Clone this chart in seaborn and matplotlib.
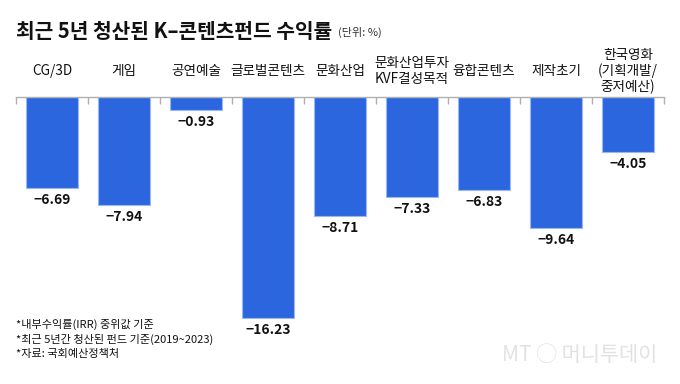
import matplotlib
matplotlib.use("Agg")
import matplotlib.pyplot as plt
import matplotlib.transforms as mtransforms
import seaborn as sns
import pandas as pd

categories = ["CG/3D", "게임", "공연예술", "글로벌콘텐츠", "문화산업",
              "문화산업투자\nKVF결성목적", "융합콘텐츠", "제작초기", "한국영화\n(기획개발/\n중저예산)"]
values = [-6.69, -7.94, -0.93, -16.23, -8.71, -7.33, -6.83, -9.64, -4.05]
value_labels = ["−6.69", "−7.94", "−0.93", "−16.23", "−8.71", "−7.33", "−6.83", "−9.64", "−4.05"]
title = "최근 5년 청산된 K–콘텐츠펀드 수익률"
unit = "(단위: %)"
notes = ["*내부수익률(IRR) 중위값 기준",
         "*최근 5년간 청산된 펀드 기준(2019~2023)",
         "*자료: 국회예산정책처"]

sns.set_theme(style="white")
plt.rcParams['font.family'] = ['Noto Sans CJK KR', 'DejaVu Sans']
plt.rcParams['axes.unicode_minus'] = False

df = pd.DataFrame({"cat": categories, "val": values})

W, H = 680, 384
fig = plt.figure(figsize=(W / 100, H / 100), dpi=100)
base_px = 97
bottom_px = 340
ax = fig.add_axes([16 / W, 1 - bottom_px / H, 648 / W, (bottom_px - base_px) / H])

px_per_unit = (318 - base_px) / 16.23
ymin = -(bottom_px - base_px) / px_per_unit
sns.barplot(data=df, x="cat", y="val", ax=ax, color="#2b66de", width=0.72,
            edgecolor="#9ab8f0", linewidth=0.8, saturation=1)
ax.set_ylim(ymin, 0)
ax.set_xlim(-0.5, len(categories) - 0.5)
for s in ["left", "right", "bottom"]:
    ax.spines[s].set_visible(False)
ax.spines["top"].set_color("#b0b0b0")
ax.spines["top"].set_linewidth(1.0)
ax.set_xlabel("")
ax.set_ylabel("")
ax.set_yticks([])
ax.set_xticks([i - 0.5 for i in range(len(categories) + 1)])
ax.set_xticklabels([])
ax.xaxis.tick_top()
ax.tick_params(axis="x", direction="in", length=5, width=1, color="#b0b0b0", top=True, bottom=False)

trans = mtransforms.blended_transform_factory(ax.transData, ax.transAxes)
for i, c in enumerate(categories):
    ax.annotate(c, xy=(i, 1), xycoords=trans, xytext=(0, 26 * 0.72), textcoords="offset points",
                ha="center", va="center", fontsize=9.8, color="#111111", linespacing=1.1,
                annotation_clip=False)

for i, (v, lab) in enumerate(zip(values, value_labels)):
    ax.annotate(lab, xy=(i, v), xytext=(0, -12 * 0.72), textcoords="offset points",
                ha="center", va="center", fontsize=10, fontweight="bold", color="#111111")

fig.text(16 / W, 1 - 31 / H, title, fontsize=14.6, fontweight="bold", color="#111111",
         ha="left", va="center")
fig.text(338 / W, 1 - 32 / H, unit, fontsize=8, color="#333333", ha="left", va="center")

for k, n in enumerate(notes):
    fig.text(16 / W, 1 - (324 + 15 * k) / H, n, fontsize=8, color="#111111", ha="left", va="center")

fig.text(580 / W, 1 - 355 / H, "MT ◯ 머니투데이", fontsize=15, color="#e2e2e2",
         ha="center", va="center", style="normal")

fig.savefig("out.png", dpi=100)
